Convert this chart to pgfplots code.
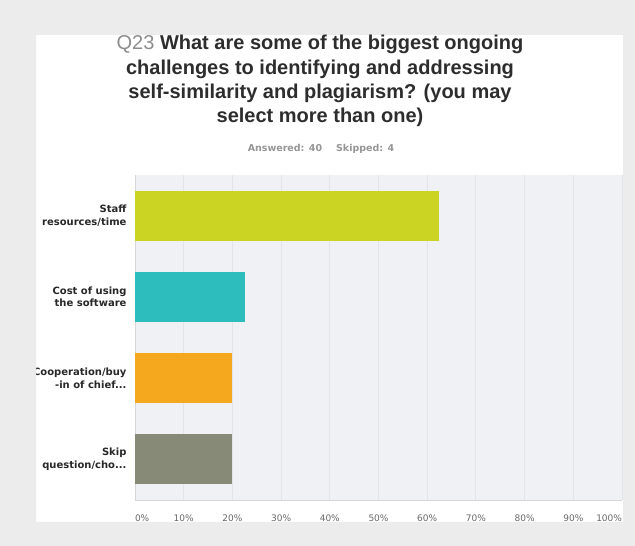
\documentclass[border=0pt]{standalone}
\usepackage{pgfplots}
\pgfplotsset{compat=1.18}
\usepackage{fontspec}
\setmainfont{Liberation Sans}
\newfontfamily\dejavu{DejaVu Sans}
\definecolor{outergrey}{RGB}{236,236,236}
\definecolor{plotbg}{RGB}{239,241,244}
\definecolor{gridc}{RGB}{226,228,232}
\definecolor{axisc}{RGB}{212,214,218}
\definecolor{titlec}{RGB}{45,45,45}
\definecolor{qgrey}{RGB}{140,140,140}
\definecolor{subc}{RGB}{150,150,150}
\definecolor{labc}{RGB}{40,40,40}
\definecolor{tickc}{RGB}{105,105,105}
\definecolor{c1}{RGB}{203,211,35}
\definecolor{c2}{RGB}{45,189,189}
\definecolor{c3}{RGB}{245,168,30}
\definecolor{c4}{RGB}{136,138,120}
\newcommand{\dd}{{.}{.}{.}}

\begin{document}
\begin{tikzpicture}
\fill[white] (0,0) rectangle (635bp,546bp);
\begin{axis}[
  at={(135bp,46bp)}, anchor=south west,
  scale only axis, width=487bp, height=325bp,
  xmin=0, xmax=100, ymin=0.5, ymax=4.5, y dir=reverse,
  xbar, bar width=50bp, /pgf/bar shift=0pt,
  axis background/.style={fill=plotbg},
  xmajorgrids, grid style={gridc, line width=1bp},
  axis x line*=bottom, axis y line*=left,
  axis line style={axisc, line width=0.8bp, -},
  major tick length=0pt,
  xtick={0,10,20,30,40,50,60,70,80,90,100},
  xticklabels={\makebox[0pt][l]{0\%},10\%,20\%,30\%,40\%,50\%,60\%,70\%,80\%,90\%,\makebox[0pt][r]{100\%}},
  xticklabel style={font=\dejavu\fontsize{9bp}{11bp}\selectfont, text=tickc, yshift=-11bp},
  ytick={1,2,3,4},
  yticklabels={{Staff\\resources/time},{Cost of using\\the software},{Cooperation/buy\\-in of chief\dd},{Skip\\question/cho\dd}},
  yticklabel style={font=\dejavu\bfseries\fontsize{10bp}{12.5bp}\selectfont, text=labc, align=right, xshift=-5bp},
]
\addplot[fill=c1, draw=none] coordinates {(62.5,1)};
\addplot[fill=c2, draw=none] coordinates {(22.5,2)};
\addplot[fill=c3, draw=none] coordinates {(20,3)};
\addplot[fill=c4, draw=none] coordinates {(20,4)};
\end{axis}
\fill[outergrey, even odd rule] (0,0) rectangle (635bp,546bp) (36bp,24bp) rectangle (623bp,511bp);
\begin{scope}[every node/.style={anchor=base, inner sep=0pt, text=titlec, font=\bfseries\fontsize{20bp}{24bp}\selectfont}]
\node at (320bp,496bp) {{\mdseries\color{qgrey}Q23} What are some of the biggest ongoing};
\node at (320bp,471.5bp) {challenges to identifying and addressing};
\node at (320bp,447.5bp) {self-similarity and plagiarism? (you may};
\node at (320bp,423bp) {select more than one)};
\end{scope}
\node[anchor=base, inner sep=0pt, text=subc, font=\dejavu\bfseries\fontsize{9.5bp}{11bp}\selectfont] at (321bp,394bp) {Answered: 40\hspace{14bp}Skipped: 4};
\pgfresetboundingbox
\useasboundingbox (0,0) rectangle (635bp,546bp);
\end{tikzpicture}
\end{document}
